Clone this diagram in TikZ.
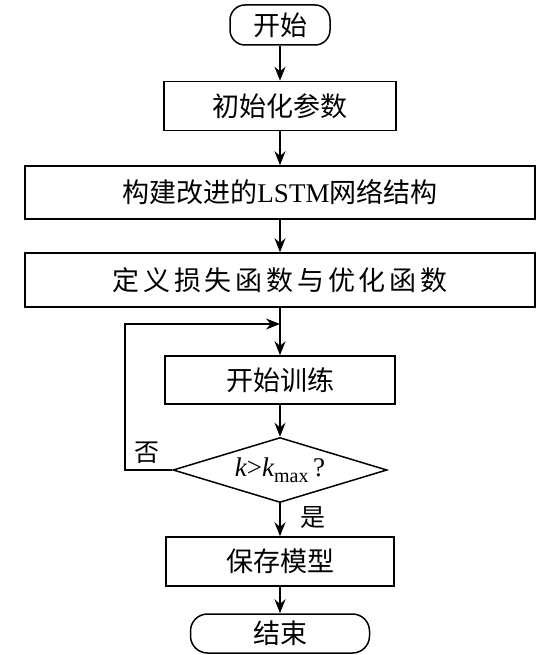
\documentclass[tikz,border=0pt]{standalone}
\usepackage{fontspec}
\usepackage{tikz}
\usetikzlibrary{shapes.geometric,arrows.meta}
\setmainfont{Liberation Serif}
\newfontfamily\cjk{Noto Sans CJK SC}
\tikzset{
  flow/.style={draw, line width=1.5pt, inner sep=0pt, font=\cjk\fontsize{27}{32}\selectfont},
  stepbox/.style={flow, rectangle, minimum width=#1, minimum height=49pt},
  endbox/.style={flow, rectangle, rounded corners=15pt, minimum width=#1, minimum height=40pt},
  judgebox/.style={flow, diamond, aspect=3.3, minimum width=214pt, minimum height=65pt},
  link/.style={line width=1.5pt, -{Stealth[length=14pt,width=11pt]}},
  tag/.style={font=\cjk\fontsize{25}{30}\selectfont},
}
\begin{document}
\begin{tikzpicture}[x=1pt,y=-1pt]
  \useasboundingbox (0,0) rectangle (550,655);
  \node[endbox=100pt] (start) at (280,25) {开始};
  \node[stepbox=232pt] (init) at (280,106) {初始化参数};
  \node[stepbox=510pt, minimum height=53pt] (lstm) at (280,192.5) {构建改进的\rmfamily LSTM\cjk 网络结构};
  \node[stepbox=510pt, minimum height=54pt] (loss) at (280,280) {\addfontfeature{LetterSpace=14}定义损失函数与优化函数};
  \node[stepbox=230pt, minimum height=48pt] (train) at (280,380) {开始训练};
  \node[judgebox] (judge) at (280,470) {\rmfamily\itshape k\upshape>\itshape k\upshape\raisebox{-0.45ex}{\fontsize{20}{20}\selectfont max}\,?};
  \node[stepbox=228pt] (save) at (280,561.5) {保存模型};
  \node[endbox=179pt, minimum height=39pt, rounded corners=17pt] (stop) at (280,633.5) {结束};
  \coordinate (join) at (280,324);
  \coordinate (back) at (125,470);
  \draw[link] (start) -- (init);
  \draw[link] (init) -- (lstm);
  \draw[link] (lstm) -- (loss);
  \draw[link] (loss) -- (train);
  \draw[link] (train) -- (judge);
  \draw[link] (judge) -- (save);
  \draw[link] (save) -- (stop);
  \draw[link] (judge.west) -- (back) |- (join);
  \node[tag] (no) at (147,453) {否};
  \node[tag] (yes) at (313,518) {是};
\end{tikzpicture}
\end{document}
